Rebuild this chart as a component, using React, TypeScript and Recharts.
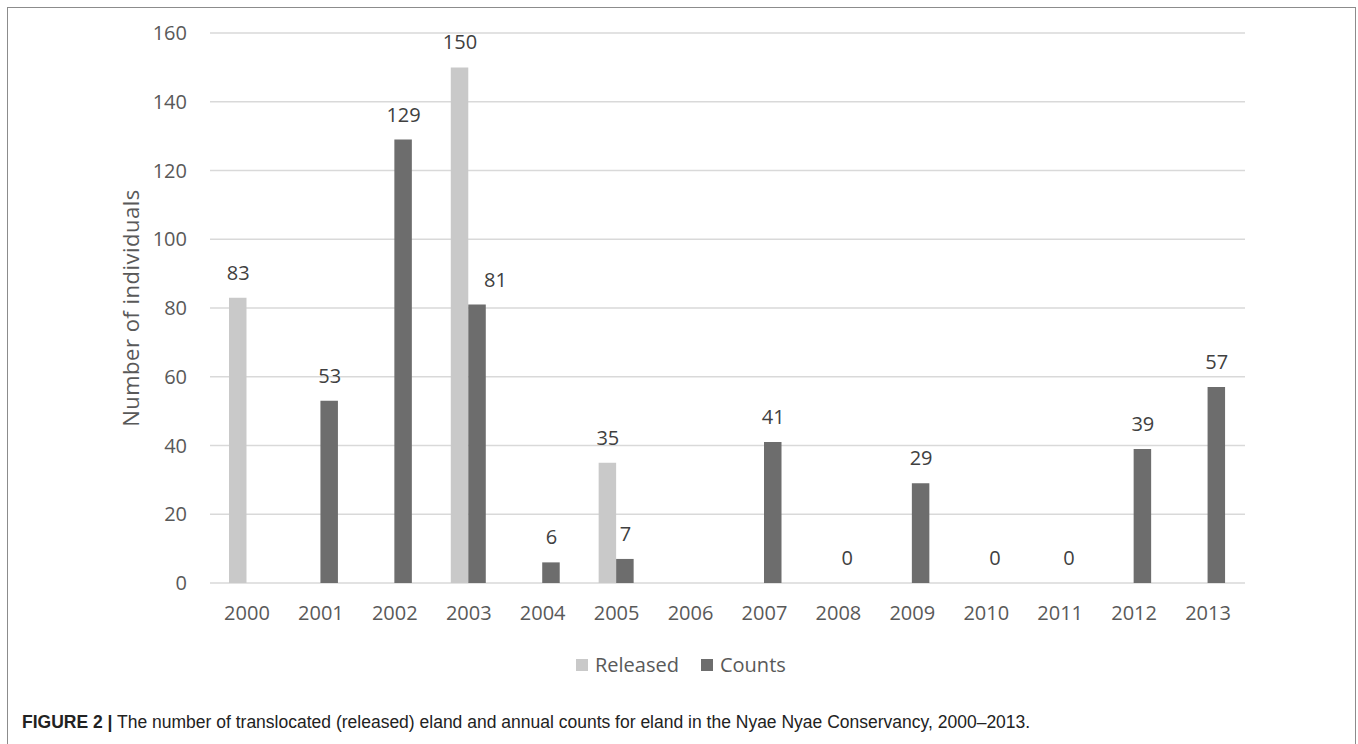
import { Bar, CartesianGrid, ComposedChart, Legend, Scatter, XAxis, YAxis } from 'recharts';

const years = ['2000', '2001', '2002', '2003', '2004', '2005', '2006', '2007', '2008', '2009', '2010', '2011', '2012', '2013'];
const released: (number | null)[] = [83, null, null, 150, null, 35, null, null, null, null, null, null, null, null];
const counts: (number | null)[] = [null, 53, 129, 81, 6, 7, null, 41, 0, 29, 0, 0, 39, 57];
const yTicks = [0, 20, 40, 60, 80, 100, 120, 140, 160];

const data = years.map((year, i) => ({ year, released: released[i], counts: counts[i] }));

const FONT = "'Open Sans', sans-serif";
const LIGHT = '#c9c9c9';
const DARK = '#6d6d6d';
const BAR = 17.5;

// value labels drawn as scatter shapes so zero values get a label too
const makeLabel = (key: 'released' | 'counts', dx: number) => (props: any) => {
  const { cx, cy, payload } = props;
  const value = payload ? payload[key] : null;
  if (value == null || cx == null || cy == null || isNaN(cx) || isNaN(cy)) return <g />;
  // the 2003 counts label is nudged right in the original so it clears the tall bar
  const nudge = key === 'counts' && payload.year === '2003' ? 18 : 0;
  return (
    <text
      x={cx + dx + nudge}
      y={cy - 18}
      textAnchor='middle'
      fill='#404040'
      fontFamily={FONT}
      fontSize={20}
    >
      {value}
    </text>
  );
};

const YTitle = (props: any) => {
  const { viewBox } = props;
  const cx = viewBox.x;
  const cy = viewBox.y + viewBox.height / 2;
  return (
    <text
      x={cx}
      y={cy}
      transform={`rotate(-90 ${cx} ${cy})`}
      textAnchor='middle'
      dominantBaseline='central'
      fill='#595959'
      fontFamily={FONT}
      fontSize={22}
      letterSpacing={0.5}
    >
      Number of individuals
    </text>
  );
};

const LegendBox = () => (
  <div style={{ display: 'flex', alignItems: 'center', fontFamily: FONT, fontSize: 20, color: '#595959' }}>
    <span style={{ width: 12, height: 12, background: LIGHT, marginRight: 7 }} />
    <span style={{ marginRight: 22 }}>Released</span>
    <span style={{ width: 12, height: 12, background: DARK, marginRight: 7 }} />
    <span>Counts</span>
  </div>
);

export default function App() {
  return (
    <div style={{ position: 'absolute', left: 0, top: 0, width: 1358, height: 744, overflow: 'hidden', background: '#fff' }}>
      <div
        style={{
          position: 'absolute',
          left: 7,
          top: 7,
          width: 1347,
          height: 800,
          border: '1.5px solid #8c8c8c',
        }}
      />
      <div style={{ position: 'absolute', left: 0, top: 0 }}>
        <ComposedChart
          width={1358}
          height={700}
          data={data}
          margin={{ top: 33, right: 113, bottom: 87, left: 130 }}
          barSize={BAR}
          barGap={0}
        >
          <CartesianGrid vertical={false} stroke='#d9d9d9' strokeWidth={1.5} />
          <XAxis
            dataKey='year'
            axisLine={false}
            tickLine={false}
            tickSize={0}
            tickMargin={23}
            tick={{ fill: '#595959', fontSize: 20, fontFamily: FONT }}
            height={30}
          />
          <YAxis
            width={80}
            domain={[0, 160]}
            ticks={yTicks}
            axisLine={false}
            tickLine={false}
            tickSize={0}
            tickMargin={23}
            tick={{ fill: '#595959', fontSize: 20, fontFamily: FONT }}
            label={<YTitle />}
          />
          <Legend
            verticalAlign='middle'
            align='center'
            content={<LegendBox />}
            wrapperStyle={{ left: 576, top: 651, width: 'auto', right: 'auto', bottom: 'auto' }}
          />
          <Bar dataKey='released' name='Released' fill={LIGHT} isAnimationActive={false} />
          <Bar dataKey='counts' name='Counts' fill={DARK} isAnimationActive={false} />
          <Scatter dataKey='released' legendType='none' isAnimationActive={false} shape={makeLabel('released', -BAR / 2)} />
          <Scatter dataKey='counts' legendType='none' isAnimationActive={false} shape={makeLabel('counts', BAR / 2)} />
        </ComposedChart>
      </div>
      <div
        style={{
          position: 'absolute',
          left: 22,
          top: 712,
          fontFamily: "'Liberation Sans', Arial, sans-serif",
          fontSize: 17.5,
          color: '#222',
          whiteSpace: 'nowrap',
        }}
      >
        <b>FIGURE 2 |</b> The number of translocated (released) eland and annual counts for eland in the Nyae Nyae Conservancy, 2000–2013.
      </div>
    </div>
  );
}
